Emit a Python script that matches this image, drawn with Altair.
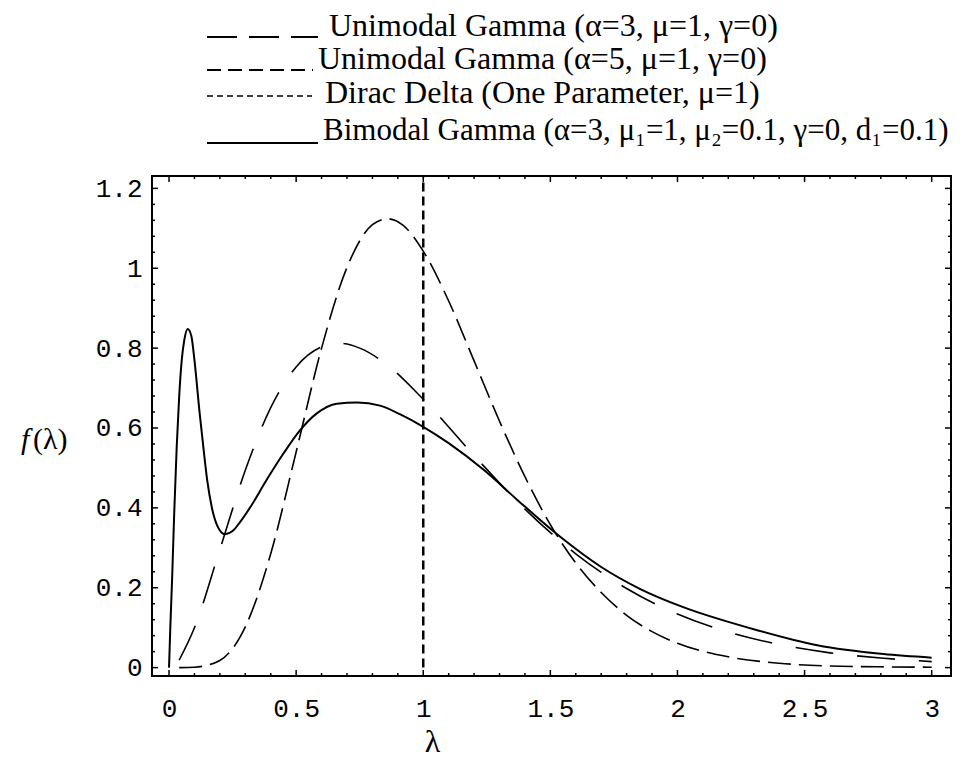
import altair as alt
import pandas as pd

# ---------------- data ----------------
# Bimodal Gamma (solid)
bi_lam = [0.0, 0.005, 0.012, 0.02, 0.03, 0.04, 0.05, 0.06, 0.0735, 0.088, 0.10, 0.12,
          0.135, 0.15, 0.168, 0.19, 0.22, 0.25, 0.28, 0.32, 0.38, 0.45, 0.515, 0.58,
          0.66, 0.74, 0.83, 0.91, 1.0, 1.1, 1.24, 1.37, 1.54, 1.70, 1.85, 2.02, 2.29,
          2.55, 2.81, 3.0]
bi_f = [0.0, 0.10, 0.22, 0.38, 0.55, 0.68, 0.77, 0.82, 0.848, 0.83, 0.77, 0.64,
        0.552, 0.47, 0.402, 0.355, 0.334, 0.342, 0.365, 0.402, 0.466, 0.536, 0.594, 0.636,
        0.661, 0.664, 0.656, 0.634, 0.603, 0.562, 0.494, 0.420, 0.327, 0.252, 0.198, 0.152, 0.098,
        0.056, 0.034, 0.025]

# Unimodal Gamma (alpha=3) - long dashes
g3_lam = [0.04, 0.1, 0.2, 0.3, 0.4, 0.5, 0.6, 0.67, 0.75, 0.85, 1.0, 1.2, 1.4, 1.6,
          1.8, 2.0, 2.2, 2.4, 2.6, 2.8, 3.0]
g3_f = [0.019, 0.100, 0.296, 0.494, 0.651, 0.753, 0.803, 0.812, 0.800, 0.762, 0.672,
        0.531, 0.397, 0.285, 0.198, 0.134, 0.089, 0.058, 0.037, 0.024, 0.015]

# Unimodal Gamma (alpha=5) - medium dashes
g5_lam = [0.04, 0.1, 0.2, 0.3, 0.4, 0.5, 0.6, 0.7, 0.8, 0.86, 0.92, 1.0, 1.1, 1.2,
          1.3, 1.4, 1.5, 1.6, 1.7, 1.8, 1.9, 2.0, 2.2, 2.4, 2.6, 2.8, 3.0]
g5_f = [0.0, 0.001, 0.018, 0.102, 0.285, 0.540, 0.800, 1.002, 1.109, 1.124, 1.108,
        1.043, 0.918, 0.768, 0.617, 0.478, 0.358, 0.262, 0.188, 0.131, 0.090, 0.061,
        0.027, 0.011, 0.004, 0.002, 0.001]

# Dirac delta position
dirac_mu = [1.0]

# axis ticks
x_major = [0, 0.5, 1, 1.5, 2, 2.5, 3]
x_minor = [0.1, 0.2, 0.3, 0.4, 0.6, 0.7, 0.8, 0.9, 1.1, 1.2, 1.3, 1.4, 1.6, 1.7, 1.8,
           1.9, 2.1, 2.2, 2.3, 2.4, 2.6, 2.7, 2.8, 2.9]
y_major = [0, 0.2, 0.4, 0.6, 0.8, 1.0, 1.2]
y_minor = [0.04, 0.08, 0.12, 0.16, 0.24, 0.28, 0.32, 0.36, 0.44, 0.48, 0.52, 0.56,
           0.64, 0.68, 0.72, 0.76, 0.84, 0.88, 0.92, 0.96, 1.04, 1.08, 1.12, 1.16]

legend_labels = [
    "Unimodal Gamma (α=3, μ=1, γ=0)",
    "Unimodal Gamma (α=5, μ=1, γ=0)",
    "Dirac Delta (One Parameter, μ=1)",
    "Bimodal Gamma (α=3, μ₁=1, μ₂=0.1, γ=0, d₁=0.1)",
]

# ---------------- layout / style ----------------
W, H = 799, 500
XDOM = [-0.067, 3.076]
YDOM = [-0.021, 1.231]
SERIF = "Liberation Serif"
MONO = "Liberation Mono"

xs = alt.Scale(domain=XDOM, nice=False, zero=False)
ys = alt.Scale(domain=YDOM, nice=False, zero=False)

xaxis = alt.Axis(values=x_major, format="~g", ticks=False, tickSize=0, domain=False,
                 grid=False, labelFont=MONO, labelFontSize=26, labelColor="black",
                 labelPadding=19, labelFlush=False, labelOverlap=False,
                 title="λ", titleFont=SERIF, titleFontSize=32, titleFontWeight="normal",
                 titleColor="black", titleX=280, titleY=65, titleAlign="center",
                 titleBaseline="middle")
yaxis = alt.Axis(values=y_major, format="~g", ticks=False, tickSize=0, domain=False,
                 grid=False, labelFont=MONO, labelFontSize=26, labelColor="black",
                 labelPadding=10, labelFlush=False, labelOverlap=False, title=None)


def X(field):
    return alt.X(field, scale=xs, axis=xaxis)


def Y(field):
    return alt.Y(field, scale=ys, axis=yaxis)


def curve(lam, f, width, dash=None):
    df = pd.DataFrame({"lam": lam, "f": f})
    kw = dict(color="black", strokeWidth=width, interpolate="monotone", clip=True)
    if dash:
        kw["strokeDash"] = dash
    return alt.Chart(df).mark_line(**kw).encode(x=X("lam:Q"), y=Y("f:Q"))


layers = []
layers.append(curve(bi_lam, bi_f, 2.0))
layers.append(curve(g3_lam, g3_f, 1.6, [38, 24]))
layers.append(curve(g5_lam, g5_f, 1.6, [23, 8]))

dirac_df = pd.DataFrame({"lam": dirac_mu, "f": [0.0] * len(dirac_mu)})
layers.append(
    alt.Chart(dirac_df).mark_rule(color="black", strokeWidth=2.5, strokeDash=[9, 5])
    .encode(x=X("lam:Q"), y=Y("f:Q"), y2=alt.value(0))
)

# inward frame ticks
for vals, ln in ((x_major, 6), (x_minor, 3)):
    d = pd.DataFrame({"v": vals})
    layers.append(alt.Chart(d).mark_rule(color="black", strokeWidth=1.5)
                  .encode(x=X("v:Q"), y=alt.value(H), y2=alt.value(H - ln)))
    layers.append(alt.Chart(d).mark_rule(color="black", strokeWidth=1.5)
                  .encode(x=X("v:Q"), y=alt.value(0), y2=alt.value(ln)))
for vals, ln in ((y_major, 6), (y_minor, 3)):
    d = pd.DataFrame({"v": vals})
    layers.append(alt.Chart(d).mark_rule(color="black", strokeWidth=1.5)
                  .encode(y=Y("v:Q"), x=alt.value(0), x2=alt.value(ln)))
    layers.append(alt.Chart(d).mark_rule(color="black", strokeWidth=1.5)
                  .encode(y=Y("v:Q"), x=alt.value(W), x2=alt.value(W - ln)))

one = alt.Data(values=[{}])

# legend (drawn above the frame)
leg_text_x = [177, 166, 173, 171]
leg_text_y = [-150, -117, -83.5, -45]
leg_font = [32, 32, 32, 31]
leg_line_x2 = [166, 161, 160, 166]
leg_line_y = [-139, -106, -80, -33]
leg_dash = [[30, 12], [14, 7], [6, 4], None]
leg_w = [2.0, 2.0, 1.5, 2.0]
for i, lab in enumerate(legend_labels):
    kw = dict(color="black", strokeWidth=leg_w[i])
    if leg_dash[i]:
        kw["strokeDash"] = leg_dash[i]
    layers.append(alt.Chart(one).mark_rule(**kw).encode(
        x=alt.value(55), x2=alt.value(leg_line_x2[i]), y=alt.value(leg_line_y[i])))
    layers.append(alt.Chart(one).mark_text(
        align="left", baseline="middle", font=SERIF, fontSize=leg_font[i], color="black")
        .encode(x=alt.value(leg_text_x[i]), y=alt.value(leg_text_y[i]), text=alt.value(lab)))

# y-axis title f(λ) with italic f
layers.append(alt.Chart(one).mark_text(
    align="left", baseline="middle", font=SERIF, fontSize=30, fontStyle="italic", color="black")
    .encode(x=alt.value(-131), y=alt.value(264), text=alt.value("f")))
layers.append(alt.Chart(one).mark_text(
    align="left", baseline="middle", font=SERIF, fontSize=30, color="black")
    .encode(x=alt.value(-119), y=alt.value(264), text=alt.value("(λ)")))

chart = (
    alt.layer(*layers)
    .properties(width=W, height=H,
                autosize=alt.AutoSizeParams(type="none"),
                padding={"left": 144, "top": 168, "right": 15, "bottom": 84},
                background="white")
    .configure_view(stroke="black", strokeWidth=2)
)

chart.save("out.html", embed_options={"renderer": "svg", "actions": False})
